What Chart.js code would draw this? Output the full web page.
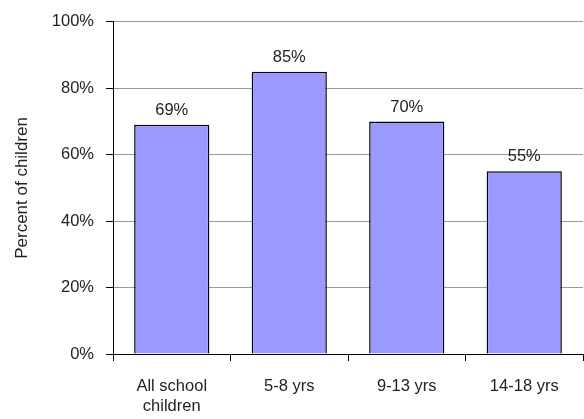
<!DOCTYPE html>
<html lang="en">
<head>
    <meta charset="UTF-8">
    <title>Percent of children</title>
    <script src="https://cdn.jsdelivr.net/npm/chart.js"></script>
    <style>
        html, body { margin: 0; padding: 0; background: white; }
        #box { width: 584px; height: 419px; }
    </style>
</head>
<body>
<div id="box"><canvas id="kidsChart"></canvas></div>
<script>
    var groups = [['All school', 'children'], '5-8 yrs', '9-13 yrs', '14-18 yrs'];
    var percents = [69, 85, 70, 55];
    var yTicks = [0, 20, 40, 60, 80, 100];

    var fontFamily = '"Liberation Sans", Arial, sans-serif';

    // write the value above each bar
    var valueLabels = {
        id: 'valueLabels',
        afterDatasetsDraw: function(chart) {
            var ctx = chart.ctx;
            var meta = chart.getDatasetMeta(0);
            ctx.save();
            ctx.font = '16.5px ' + fontFamily;
            ctx.fillStyle = '#222';
            ctx.textAlign = 'center';
            ctx.textBaseline = 'alphabetic';
            meta.data.forEach(function(bar, i) {
                ctx.fillText(percents[i] + '%', bar.x, bar.y - 10);
            });
            ctx.restore();
        }
    };

    Chart.defaults.font.family = fontFamily;
    Chart.defaults.font.size = 16.5;
    Chart.defaults.color = '#222';

    new Chart(document.getElementById('kidsChart').getContext('2d'), {
        type: 'bar',
        data: {
            labels: groups,
            datasets: [{
                data: percents,
                backgroundColor: '#9999FF',
                borderColor: '#000',
                borderWidth: 1.5,
                categoryPercentage: 1,
                barPercentage: 0.64
            }]
        },
        options: {
            responsive: true,
            maintainAspectRatio: false,
            animation: false,
            layout: { padding: { top: 21, right: 1, left: 0, bottom: 0 } },
            plugins: { legend: { display: false }, tooltip: { enabled: false } },
            scales: {
                x: {
                    grid: { offset: true, drawOnChartArea: false, tickLength: 7, tickColor: '#000' },
                    border: { color: '#000', width: 1 },
                    ticks: { padding: 16, maxRotation: 0, autoSkip: false, font: { lineHeight: 1.2 } },
                    afterFit: function(scale) { scale.height = 65; }
                },
                y: {
                    min: 0,
                    max: 100,
                    afterBuildTicks: function(scale) {
                        scale.ticks = yTicks.map(function(v) { return { value: v }; });
                    },
                    ticks: { padding: 12, callback: function(v) { return v + '%'; } },
                    grid: { color: '#999', tickLength: 7, tickColor: '#000' },
                    border: { color: '#000', width: 1 },
                    title: { display: true, text: 'Percent of children', font: { size: 17 }, padding: { top: 12, bottom: 4 } },
                    afterFit: function(scale) { scale.width = 113; }
                }
            }
        },
        plugins: [valueLabels]
    });
</script>
</body>
</html>
